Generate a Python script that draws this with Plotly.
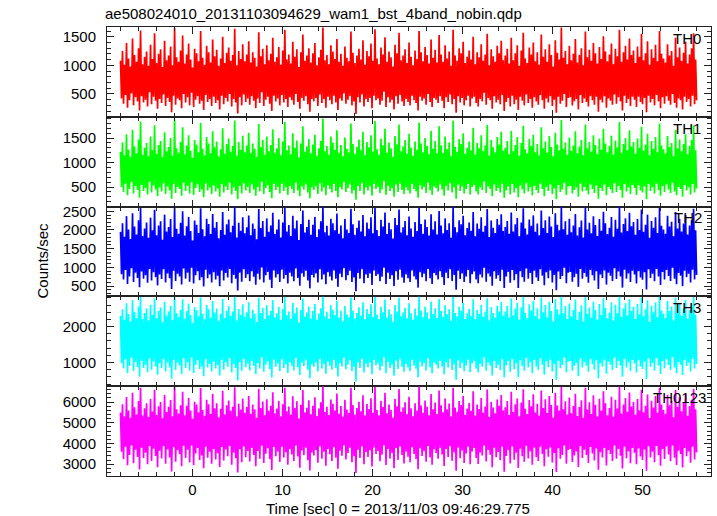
import numpy as np
import plotly.graph_objects as go
from plotly.subplots import make_subplots

# ---- data (counts/sec) ----
# The light curve is very dense; each band is given as alternating local
# peaks and troughs of the trace across the exposure.
t_start = -8.0
t_stop = 56.0

th0_peak = [
    1080, 1250, 1010, 1390, 1120, 980, 1470, 1180, 1060, 1300, 1610, 1020, 1150, 1240, 990, 1360,
    1110, 1560, 1040, 1200, 1280, 970, 1430, 1090, 1170, 1330, 1000, 1650, 1140, 1060, 1260, 1520,
    1030, 1190, 1380, 1100, 960, 1290, 1210, 1070, 1600, 1130, 1010, 1340, 1230, 1050, 1450, 1160,
    1270, 990, 1120, 1500, 1040, 1220, 1310, 1080, 1180, 1640, 1000, 1250, 1110, 1370, 1070, 1190,
    1420, 1050, 1230, 1130, 980, 1580, 1160, 1290, 1020, 1350, 1090, 1200, 1480, 1060, 1140, 1320,
    1010, 1260, 1620, 1100, 1190, 1030, 1410, 1150, 1280, 970, 1230, 1540, 1080, 1170, 1300, 1050,
    1210, 1390, 1000, 1140, 1270, 1660, 1090, 1180, 1020, 1350, 1240, 1110, 1460, 1060, 1200, 990,
    1330, 1130, 1070, 1590, 1220, 1040, 1170, 1290, 1100, 1440, 1010, 1250, 1160, 1380, 1080, 1630,
    1120, 1020, 1310, 1190, 1490, 1060, 1240, 1140, 980, 1360, 1210, 1570, 1090, 1170, 1280, 1040,
    1400, 1150, 1000, 1260, 1110, 1600, 1230, 1070, 1320, 1180, 1030, 1450, 1130, 1270, 1050, 1530,
    1190, 1060, 1350, 1120, 1240, 990, 1620, 1170, 1080, 1300, 1210, 1410, 1040, 1150, 1260, 1100,
    1500, 1020, 1230, 1140, 1370, 1080, 1190, 1550, 1000, 1280, 1160, 1060, 1340, 1210, 1430, 1090,
    1170, 1290, 1030, 1480, 1090, 1210, 1350, 990, 1260, 1570, 1120, 1040, 1310, 1190, 1400, 1070,
    1230, 1010, 1540, 1150, 1280, 1060, 1370, 1180, 980, 1440, 1220, 1100, 1660, 1130, 1250, 1020,
    1340, 1090, 1200, 1460, 1050, 1180, 1300, 1000, 1590, 1140, 1270, 1080, 1390, 1210, 1030, 1320,
    1110, 1510, 1240, 1070, 1190, 1380, 1020, 1290, 1160, 1620, 1060, 1230, 1340, 1100, 1470, 1180,
    1260, 1040, 1330, 1150, 1550, 1090, 1210, 1420, 1010, 1280, 1130, 1360, 1070, 1600, 1200, 1120,
    1050, 1370, 1170, 1250, 990, 1480, 1140, 1310, 1080, 1220, 1410, 1030, 1190, 1300, 1560, 1100,
]
th0_trough = [
    420, 330, 480, 260, 390, 510, 300, 440, 370, 210, 460, 350, 400, 280, 530, 320,
    450, 380, 240, 410, 340, 490, 290, 430, 360, 180, 470, 310, 420, 390, 250, 500,
    350, 440, 300, 520, 270, 400, 460, 330, 380, 220, 480, 360, 410, 290, 450, 340,
    390, 230, 470, 320, 430, 370, 500, 280, 410, 350, 160, 440, 300, 490, 360, 420,
    310, 460, 380, 250, 420, 340, 530, 290, 400, 450, 330, 200, 470, 370, 420, 300,
    480, 350, 410, 270, 440, 390, 310, 500, 360, 240, 430, 380, 460, 320, 190, 410,
    370, 430, 290, 490, 340, 410, 260, 450, 390, 320, 470, 350, 220, 420, 380, 510,
    330, 400, 460, 300, 370, 150, 440, 350, 490, 280, 410, 360, 430, 250, 470, 390,
    420, 310, 380, 540, 270, 440, 350, 400, 230, 460, 330, 480, 370, 290, 410, 360,
    300, 470, 390, 340, 210, 450, 380, 420, 310, 500, 360, 270, 430, 400, 340, 460,
    380, 250, 440, 360, 490, 320, 410, 170, 460, 350, 430, 300, 390, 470, 280, 420,
    450, 340, 280, 410, 370, 520, 310, 430, 390, 240, 460, 350, 400, 320, 480, 200,
    360, 430, 280, 470, 320, 400, 220, 450, 380, 300, 490, 340, 410, 260, 440, 370,
    310, 480, 390, 240, 420, 350, 460, 290, 400, 170, 450, 330, 380, 500, 270, 430,
    440, 300, 370, 410, 230, 480, 340, 420, 360, 280, 460, 390, 310, 450, 190, 400,
    350, 460, 260, 420, 380, 310, 490, 330, 440, 370, 210, 470, 340, 410, 290, 450,
    400, 270, 450, 360, 320, 430, 180, 470, 350, 410, 300, 480, 370, 250, 440, 330,
    460, 380, 310, 500, 340, 260, 420, 390, 230, 450, 360, 410, 280, 470, 320, 390,
]

th1_peak = [
    1220, 1410, 1150, 1580, 1260, 1120, 1670, 1330, 1190, 1470, 1840, 1160, 1300, 1400, 1130, 1530,
    1250, 1760, 1180, 1360, 1440, 1110, 1620, 1230, 1320, 1500, 1140, 1880, 1290, 1200, 1420, 1720,
    1170, 1350, 1560, 1240, 1100, 1460, 1370, 1210, 1810, 1280, 1150, 1520, 1390, 1190, 1640, 1310,
    1430, 1130, 1270, 1700, 1180, 1380, 1490, 1220, 1340, 1860, 1140, 1420, 1260, 1550, 1210, 1350,
    1610, 1190, 1390, 1280, 1120, 1790, 1310, 1460, 1160, 1530, 1230, 1360, 1680, 1200, 1290, 1500,
    1150, 1430, 1830, 1250, 1350, 1170, 1600, 1300, 1450, 1110, 1390, 1740, 1220, 1330, 1480, 1190,
    1370, 1570, 1140, 1290, 1440, 1900, 1230, 1340, 1160, 1530, 1410, 1260, 1660, 1200, 1360, 1130,
    1510, 1280, 1210, 1800, 1380, 1180, 1320, 1470, 1250, 1630, 1150, 1420, 1310, 1560, 1220, 1850,
    1270, 1160, 1490, 1350, 1690, 1200, 1410, 1290, 1120, 1540, 1370, 1780, 1230, 1330, 1460, 1180,
    1590, 1300, 1140, 1430, 1260, 1820, 1390, 1210, 1500, 1340, 1170, 1650, 1280, 1440, 1190, 1740,
    1350, 1200, 1530, 1270, 1410, 1130, 1860, 1320, 1220, 1480, 1380, 1600, 1180, 1300, 1430, 1250,
    1710, 1160, 1400, 1290, 1560, 1230, 1350, 1770, 1140, 1460, 1310, 1210, 1520, 1370, 1630, 1240,
    1300, 1440, 1170, 1650, 1230, 1360, 1520, 1140, 1400, 1750, 1270, 1190, 1480, 1340, 1570, 1210,
    1380, 1150, 1720, 1290, 1430, 1200, 1540, 1320, 1130, 1610, 1370, 1250, 1870, 1280, 1410, 1160,
    1510, 1240, 1350, 1640, 1190, 1330, 1460, 1150, 1780, 1290, 1420, 1220, 1560, 1360, 1170, 1490,
    1260, 1690, 1390, 1210, 1340, 1550, 1160, 1450, 1310, 1830, 1200, 1380, 1500, 1250, 1660, 1330,
    1420, 1180, 1490, 1300, 1730, 1240, 1370, 1590, 1150, 1440, 1280, 1520, 1210, 1800, 1350, 1270,
    1190, 1540, 1320, 1400, 1130, 1670, 1290, 1470, 1230, 1380, 1580, 1170, 1340, 1460, 1760, 1250,
]
th1_trough = [
    500, 400, 570, 330, 460, 600, 370, 520, 440, 280, 540, 420, 480, 350, 610, 390,
    530, 450, 310, 490, 410, 580, 360, 510, 430, 260, 560, 380, 500, 460, 320, 590,
    420, 520, 370, 600, 340, 480, 550, 400, 450, 290, 570, 430, 490, 360, 530, 410,
    470, 300, 560, 390, 510, 440, 590, 350, 490, 420, 250, 520, 370, 580, 430, 500,
    380, 550, 450, 320, 500, 410, 610, 360, 480, 530, 400, 270, 560, 440, 500, 370,
    570, 420, 490, 340, 520, 460, 380, 590, 430, 310, 510, 450, 550, 390, 270, 490,
    440, 510, 360, 580, 410, 490, 330, 530, 460, 390, 560, 420, 290, 500, 450, 600,
    400, 480, 550, 370, 440, 240, 520, 420, 580, 350, 490, 430, 510, 320, 560, 460,
    500, 380, 450, 620, 340, 520, 420, 480, 300, 550, 400, 570, 440, 360, 490, 430,
    370, 560, 460, 410, 280, 530, 450, 500, 380, 590, 430, 340, 510, 480, 410, 550,
    450, 320, 520, 430, 580, 390, 490, 260, 550, 420, 510, 370, 460, 560, 350, 500,
    540, 410, 350, 490, 440, 610, 380, 510, 460, 310, 550, 420, 480, 390, 570, 280,
    430, 510, 350, 560, 390, 480, 290, 530, 450, 370, 580, 410, 490, 330, 520, 440,
    380, 570, 460, 310, 500, 420, 550, 360, 470, 250, 540, 400, 450, 590, 340, 510,
    520, 370, 440, 490, 300, 570, 410, 500, 430, 350, 550, 460, 380, 530, 260, 480,
    420, 550, 330, 500, 450, 380, 580, 400, 520, 440, 280, 560, 410, 490, 360, 540,
    480, 340, 530, 430, 390, 510, 250, 560, 420, 490, 370, 570, 440, 320, 520, 400,
    550, 450, 380, 590, 410, 330, 500, 460, 300, 540, 430, 490, 350, 560, 390, 470,
]

th2_peak = [
    1950, 2180, 1820, 2370, 2010, 1760, 2450, 2090, 1880, 2260, 2590, 1840, 2040, 2200, 1790, 2330,
    1990, 2540, 1860, 2120, 2230, 1740, 2410, 1960, 2080, 2290, 1810, 2620, 2030, 1900, 2190, 2500,
    1850, 2100, 2350, 1970, 1720, 2250, 2140, 1920, 2580, 2020, 1830, 2300, 2160, 1890, 2430, 2060,
    2210, 1780, 2000, 2480, 1870, 2150, 2280, 1940, 2110, 2610, 1800, 2190, 1980, 2340, 1910, 2070,
    2390, 1860, 2170, 2030, 1750, 2560, 2050, 2240, 1820, 2310, 1950, 2120, 2460, 1890, 2010, 2280,
    1800, 2200, 2600, 1960, 2130, 1840, 2380, 2040, 2250, 1730, 2160, 2520, 1930, 2080, 2270, 1870,
    2140, 2350, 1810, 2020, 2230, 2630, 1940, 2110, 1850, 2300, 2180, 1990, 2440, 1900, 2120, 1780,
    2290, 2010, 1920, 2570, 2150, 1870, 2060, 2250, 1960, 2400, 1830, 2200, 2030, 2340, 1910, 2590,
    2000, 1840, 2270, 2090, 2470, 1890, 2190, 2020, 1770, 2320, 2130, 2550, 1930, 2070, 2240, 1860,
    2360, 2040, 1820, 2210, 1970, 2600, 2160, 1900, 2280, 2080, 1850, 2420, 2010, 2230, 1880, 2510,
    2120, 1910, 2310, 2000, 2180, 1790, 2620, 2070, 1940, 2260, 2150, 2380, 1860, 2050, 2200, 1980,
    2480, 1830, 2170, 2030, 2340, 1950, 2110, 2560, 1810, 2250, 2060, 1920, 2290, 2140, 2420, 1970,
    2080, 2240, 1900, 2470, 1960, 2150, 2320, 1830, 2200, 2580, 2040, 1880, 2280, 2110, 2390, 1950,
    2170, 1860, 2520, 2050, 2260, 1920, 2360, 2090, 1810, 2450, 2140, 1990, 2640, 2020, 2230, 1870,
    2300, 1940, 2120, 2430, 1850, 2070, 2250, 1800, 2600, 2010, 2190, 1910, 2370, 2130, 1840, 2290,
    1980, 2490, 2180, 1890, 2060, 2350, 1820, 2270, 2030, 2620, 1930, 2160, 2310, 1970, 2460, 2100,
    2210, 1870, 2290, 2000, 2550, 1950, 2140, 2410, 1790, 2240, 2060, 2340, 1920, 2590, 2110, 2010,
    1900, 2380, 2090, 2220, 1830, 2480, 2040, 2300, 1960, 2170, 2400, 1880, 2120, 2260, 2570, 1990,
]
th2_trough = [
    820, 680, 930, 560, 760, 980, 610, 860, 720, 470, 890, 700, 790, 590, 960, 650,
    870, 740, 520, 810, 690, 950, 600, 840, 710, 420, 910, 640, 830, 760, 540, 970,
    700, 860, 620, 990, 570, 790, 900, 660, 740, 490, 940, 710, 810, 600, 870, 680,
    780, 500, 920, 650, 850, 730, 960, 580, 800, 700, 380, 860, 620, 950, 720, 820,
    630, 900, 750, 540, 830, 680, 1000, 600, 790, 880, 670, 450, 920, 730, 820, 610,
    940, 700, 800, 570, 860, 760, 630, 970, 720, 510, 840, 750, 910, 650, 440, 800,
    730, 840, 600, 950, 680, 810, 550, 870, 760, 650, 920, 700, 480, 830, 740, 980,
    660, 790, 910, 610, 730, 360, 850, 700, 950, 580, 810, 720, 840, 530, 920, 770,
    820, 630, 750, 990, 560, 860, 690, 790, 500, 900, 670, 940, 730, 590, 810, 710,
    610, 920, 760, 680, 460, 870, 740, 830, 630, 960, 710, 560, 850, 790, 680, 900,
    740, 530, 860, 710, 950, 640, 800, 400, 910, 690, 840, 610, 760, 930, 580, 820,
    890, 680, 580, 810, 730, 990, 620, 840, 760, 510, 900, 700, 790, 640, 940, 450,
    760, 880, 590, 930, 660, 820, 450, 900, 740, 620, 970, 700, 850, 560, 910, 730,
    640, 950, 780, 520, 870, 710, 920, 600, 800, 390, 890, 690, 770, 990, 580, 860,
    880, 620, 740, 830, 480, 960, 700, 850, 750, 590, 930, 790, 650, 900, 420, 810,
    720, 920, 540, 860, 780, 640, 980, 690, 890, 760, 460, 940, 700, 840, 610, 910,
    810, 570, 900, 730, 670, 870, 410, 950, 720, 830, 630, 960, 760, 530, 880, 680,
    930, 770, 640, 990, 700, 550, 850, 780, 500, 910, 740, 830, 600, 940, 680, 800,
]

th3_peak = [
    2300, 2480, 2190, 2650, 2350, 2140, 2730, 2410, 2240, 2560, 2820, 2210, 2380, 2500, 2170, 2610,
    2330, 2790, 2230, 2440, 2530, 2120, 2690, 2310, 2420, 2580, 2180, 2840, 2370, 2270, 2470, 2760,
    2220, 2430, 2640, 2320, 2100, 2540, 2460, 2290, 2810, 2360, 2200, 2600, 2480, 2250, 2710, 2390,
    2500, 2160, 2350, 2770, 2240, 2450, 2570, 2300, 2420, 2830, 2170, 2490, 2330, 2620, 2280, 2400,
    2680, 2230, 2470, 2360, 2130, 2800, 2380, 2520, 2200, 2590, 2310, 2440, 2740, 2260, 2370, 2550,
    2180, 2490, 2830, 2320, 2420, 2210, 2660, 2370, 2530, 2110, 2460, 2780, 2280, 2390, 2560, 2230,
    2430, 2630, 2190, 2360, 2510, 2840, 2290, 2410, 2220, 2590, 2470, 2320, 2720, 2250, 2440, 2150,
    2570, 2340, 2260, 2810, 2450, 2230, 2380, 2540, 2300, 2680, 2200, 2490, 2350, 2620, 2270, 2830,
    2330, 2210, 2550, 2400, 2750, 2250, 2480, 2340, 2140, 2600, 2420, 2800, 2290, 2390, 2520, 2230,
    2650, 2370, 2190, 2500, 2310, 2840, 2450, 2260, 2560, 2400, 2220, 2700, 2350, 2510, 2240, 2770,
    2430, 2270, 2590, 2340, 2480, 2160, 2830, 2380, 2290, 2550, 2440, 2660, 2210, 2370, 2490, 2300,
    2760, 2200, 2460, 2350, 2610, 2280, 2410, 2790, 2170, 2540, 2380, 2250, 2580, 2420, 2690, 2310,
    2420, 2580, 2250, 2780, 2310, 2500, 2660, 2190, 2540, 2830, 2380, 2230, 2620, 2450, 2720, 2290,
    2510, 2200, 2810, 2400, 2600, 2260, 2690, 2430, 2150, 2770, 2480, 2340, 2840, 2370, 2570, 2210,
    2640, 2280, 2460, 2750, 2180, 2410, 2590, 2140, 2820, 2350, 2530, 2250, 2700, 2470, 2190, 2630,
    2320, 2790, 2520, 2230, 2390, 2680, 2160, 2610, 2370, 2840, 2270, 2500, 2650, 2310, 2760, 2440,
    2550, 2210, 2630, 2340, 2810, 2290, 2480, 2730, 2130, 2580, 2400, 2670, 2260, 2830, 2450, 2360,
    2240, 2710, 2430, 2560, 2170, 2800, 2380, 2640, 2300, 2510, 2740, 2220, 2460, 2600, 2820, 2330,
]
th3_trough = [
    980, 830, 1090, 700, 910, 1130, 760, 1020, 870, 600, 1050, 850, 940, 730, 1110, 800,
    1030, 890, 660, 970, 840, 1100, 750, 1000, 860, 550, 1070, 790, 990, 910, 680, 1120,
    850, 1010, 770, 1140, 710, 940, 1060, 810, 890, 620, 1090, 860, 960, 750, 1020, 830,
    930, 640, 1080, 800, 1000, 880, 1120, 720, 950, 850, 500, 1010, 770, 1100, 870, 970,
    780, 1050, 900, 680, 980, 830, 1150, 740, 940, 1030, 820, 580, 1080, 880, 970, 760,
    1090, 850, 950, 710, 1010, 910, 780, 1120, 870, 650, 990, 900, 1060, 800, 560, 950,
    880, 990, 750, 1100, 830, 960, 690, 1020, 910, 800, 1070, 850, 610, 980, 890, 1130,
    810, 940, 1060, 760, 880, 470, 1000, 850, 1100, 720, 960, 870, 990, 670, 1070, 920,
    970, 780, 900, 1140, 700, 1010, 840, 940, 630, 1050, 820, 1090, 880, 740, 960, 860,
    760, 1070, 910, 830, 590, 1020, 890, 980, 780, 1110, 860, 700, 1000, 940, 830, 1050,
    890, 670, 1010, 860, 1100, 790, 950, 520, 1060, 840, 990, 760, 910, 1080, 730, 970,
    1040, 830, 730, 960, 880, 1140, 770, 990, 910, 640, 1050, 850, 940, 790, 1090, 580,
    920, 1040, 740, 1090, 810, 980, 590, 1060, 900, 770, 1130, 860, 1010, 700, 1070, 890,
    790, 1110, 940, 660, 1030, 870, 1080, 750, 960, 520, 1050, 840, 930, 1140, 730, 1020,
    1040, 770, 900, 990, 620, 1120, 860, 1010, 910, 740, 1090, 950, 800, 1060, 560, 970,
    880, 1080, 690, 1020, 940, 790, 1140, 850, 1050, 920, 600, 1100, 860, 1000, 760, 1070,
    970, 720, 1060, 890, 820, 1030, 540, 1110, 880, 990, 780, 1120, 920, 680, 1040, 840,
    1090, 930, 790, 1150, 860, 700, 1010, 940, 650, 1070, 900, 990, 750, 1100, 830, 960,
]

th0123_peak = [
    5500, 5900, 5300, 6250, 5600, 5250, 6450, 5750, 5400, 6050, 6700, 5350, 5700, 5950, 5280, 6150,
    5550, 6600, 5380, 5800, 6000, 5220, 6350, 5520, 5780, 6100, 5320, 6750, 5650, 5450, 5850, 6500,
    5360, 5820, 6200, 5600, 5200, 6020, 5880, 5500, 6680, 5620, 5340, 6120, 5900, 5420, 6400, 5700,
    5950, 5270, 5680, 6550, 5400, 5850, 6080, 5580, 5780, 6720, 5300, 5920, 5640, 6180, 5480, 5760,
    6300, 5420, 5880, 5660, 5240, 6650, 5720, 6030, 5360, 6140, 5580, 5820, 6480, 5460, 5690, 6060,
    5310, 5900, 6700, 5560, 5790, 5390, 6280, 5710, 6040, 5210, 5870, 6580, 5500, 5730, 6090, 5410,
    5830, 6230, 5330, 5690, 5990, 6770, 5520, 5780, 5380, 6130, 5920, 5600, 6420, 5440, 5810, 5290,
    6110, 5640, 5470, 6690, 5860, 5400, 5720, 6020, 5560, 6330, 5350, 5910, 5670, 6190, 5480, 6740,
    5620, 5370, 6070, 5760, 6450, 5460, 5890, 5630, 5260, 6160, 5800, 6640, 5530, 5740, 5990, 5410,
    6260, 5700, 5320, 5950, 5590, 6760, 5840, 5480, 6080, 5770, 5360, 6390, 5650, 5980, 5430, 6560,
    5850, 5510, 6170, 5660, 5930, 5300, 6700, 5730, 5540, 6050, 5860, 6290, 5390, 5690, 5960, 5580,
    6520, 5350, 5880, 5670, 6200, 5500, 5790, 6610, 5280, 6010, 5740, 5460, 6130, 5820, 6340, 5600,
    5750, 6050, 5380, 6500, 5520, 5900, 6180, 5300, 5980, 6620, 5680, 5420, 6100, 5800, 6380, 5500,
    5920, 5350, 6560, 5720, 6140, 5470, 6300, 5860, 5260, 6450, 5840, 5590, 6730, 5660, 6040, 5400,
    6220, 5460, 5810, 6410, 5330, 5760, 6090, 5250, 6690, 5640, 5990, 5430, 6330, 5870, 5310, 6160,
    5580, 6530, 5940, 5370, 5710, 6260, 5290, 6120, 5690, 6750, 5450, 5880, 6200, 5540, 6470, 5790,
    6000, 5390, 6150, 5600, 6600, 5510, 5830, 6370, 5230, 6060, 5740, 6290, 5480, 6700, 5890, 5620,
    5440, 6360, 5850, 6070, 5270, 6580, 5780, 6240, 5560, 5960, 6420, 5340, 5810, 6110, 6640, 5650,
]
th0123_trough = [
    3600, 3250, 3850, 2950, 3450, 3900, 3050, 3700, 3350, 2750, 3800, 3300, 3550, 3000, 3880, 3150,
    3750, 3400, 2850, 3650, 3280, 3870, 3020, 3720, 3330, 2650, 3820, 3120, 3680, 3480, 2900, 3890,
    3300, 3700, 3080, 3900, 2950, 3520, 3780, 3200, 3420, 2800, 3850, 3310, 3600, 3020, 3740, 3230,
    3530, 2870, 3830, 3180, 3710, 3380, 3880, 2980, 3560, 3290, 2600, 3720, 3100, 3860, 3340, 3640,
    3130, 3790, 3450, 2900, 3640, 3270, 3900, 3060, 3510, 3770, 3240, 2720, 3830, 3390, 3620, 3110,
    3850, 3320, 3580, 2980, 3720, 3470, 3150, 3890, 3370, 2830, 3660, 3430, 3800, 3190, 2700, 3570,
    3420, 3690, 3070, 3870, 3260, 3600, 2930, 3740, 3480, 3160, 3820, 3310, 2780, 3650, 3410, 3900,
    3230, 3540, 3800, 3090, 3390, 2580, 3700, 3300, 3860, 3000, 3590, 3350, 3680, 2890, 3810, 3500,
    3640, 3140, 3460, 3900, 2960, 3730, 3280, 3560, 2800, 3780, 3210, 3850, 3440, 3040, 3610, 3360,
    3100, 3820, 3490, 3250, 2760, 3760, 3400, 3630, 3120, 3880, 3330, 2970, 3720, 3540, 3260, 3790,
    3470, 2910, 3740, 3350, 3870, 3170, 3580, 2680, 3810, 3290, 3660, 3060, 3520, 3840, 3000, 3620,
    3780, 3300, 3010, 3570, 3420, 3900, 3130, 3690, 3460, 2850, 3800, 3340, 3590, 3190, 3850, 2630,
    3400, 3680, 3040, 3860, 3220, 3560, 2820, 3750, 3380, 3120, 3890, 3280, 3630, 2970, 3800, 3340,
    3160, 3840, 3500, 2900, 3720, 3360, 3810, 3080, 3540, 2620, 3770, 3260, 3450, 3900, 3020, 3690,
    3730, 3110, 3420, 3610, 2870, 3880, 3300, 3700, 3440, 3060, 3830, 3520, 3180, 3760, 2730, 3580,
    3320, 3790, 2940, 3670, 3490, 3150, 3900, 3270, 3740, 3410, 2790, 3850, 3290, 3620, 3050, 3780,
    3550, 3000, 3760, 3370, 3200, 3710, 2690, 3870, 3330, 3600, 3090, 3880, 3430, 2930, 3730, 3250,
    3860, 3470, 3140, 3900, 3310, 2960, 3650, 3500, 2840, 3790, 3390, 3620, 3070, 3840, 3230, 3570,
]

series_names = ["TH0", "TH1", "TH2", "TH3", "TH0123"]
series_peaks = [th0_peak, th1_peak, th2_peak, th3_peak, th0123_peak]
series_troughs = [th0_trough, th1_trough, th2_trough, th3_trough, th0123_trough]
series_colors = ["#ff0000", "#00ff00", "#0000ff", "#00ffff", "#ff00ff"]
y_ranges = [[100, 1670], [100, 1935], [225, 2625], [340, 2840], [2430, 6770]]
y_dticks = [500, 500, 500, 1000, 1000]
y_minor = [100, 100, 100, 200, 200]
label_x = [0.987, 0.987, 0.988, 0.987, 0.995]

title_text = "ae508024010_20131103094629_wam1_bst_4band_nobin.qdp"
x_title = "Time [sec] 0 = 2013/11/03 09:46:29.775"
y_title = "Counts/sec"

FONT = "Liberation Sans, Arial, Helvetica, sans-serif"
AXC = "#222222"

fig = make_subplots(rows=5, cols=1, shared_xaxes=True, vertical_spacing=0)

for i, name in enumerate(series_names):
    pk, tr = series_peaks[i], series_troughs[i]
    vals = []
    for a, b in zip(pk, tr):
        vals.extend([a, b])
    t = np.linspace(t_start, t_stop, len(vals))
    fig.add_trace(
        go.Scatter(x=t, y=vals, mode="lines", line=dict(color=series_colors[i], width=1.7),
                   showlegend=False, hoverinfo="skip"),
        row=i + 1, col=1,
    )
    fig.update_yaxes(
        range=y_ranges[i], dtick=y_dticks[i], tick0=0,
        ticks="inside", ticklen=7, tickwidth=1, tickcolor=AXC, ticklabelstandoff=7,
        minor=dict(ticks="inside", dtick=y_minor[i], tick0=0, ticklen=4, tickwidth=1, tickcolor=AXC),
        showline=True, linecolor=AXC, linewidth=1, mirror="allticks",
        showgrid=False, zeroline=False,
        tickfont=dict(family=FONT, size=15, color="#000"),
        row=i + 1, col=1,
    )
    fig.update_xaxes(
        range=[-9.5, 57.6], dtick=10, tick0=0,
        ticks="inside", ticklen=7, tickwidth=1, tickcolor=AXC,
        minor=dict(ticks="inside", dtick=2, tick0=0, ticklen=4, tickwidth=1, tickcolor=AXC),
        showline=True, linecolor=AXC, linewidth=1, mirror="allticks",
        showgrid=False, zeroline=False,
        tickfont=dict(family=FONT, size=15, color="#000"),
        row=i + 1, col=1,
    )
    yref = "y domain" if i == 0 else f"y{i + 1} domain"
    xref = "x domain" if i == 0 else f"x{i + 1} domain"
    fig.add_annotation(
        text=name, xref=xref, yref=yref, x=label_x[i], y=0.99,
        xanchor="right", yanchor="top", showarrow=False,
        font=dict(family=FONT, size=15, color="#000"),
    )

fig.add_annotation(
    text=title_text, xref="paper", yref="paper", x=0, y=1, yshift=3, xshift=-4,
    xanchor="left", yanchor="bottom", showarrow=False,
    font=dict(family=FONT, size=15, color="#000"),
)
fig.add_annotation(
    text=x_title, xref="paper", yref="paper", x=0.481, y=0, yshift=-22,
    xanchor="center", yanchor="top", showarrow=False,
    font=dict(family=FONT, size=15, color="#000"),
)
fig.add_annotation(
    text=y_title, xref="paper", yref="paper", x=0, xshift=-65, y=0.48,
    xanchor="center", yanchor="middle", textangle=-90, showarrow=False,
    font=dict(family=FONT, size=15, color="#000"),
)

fig.update_layout(
    width=717, height=516,
    margin=dict(l=107, r=6, t=27, b=40),
    paper_bgcolor="white", plot_bgcolor="white",
)

fig.write_html("out.html", config={"displayModeBar": False},
               post_script="document.body.style.margin='0px';")
